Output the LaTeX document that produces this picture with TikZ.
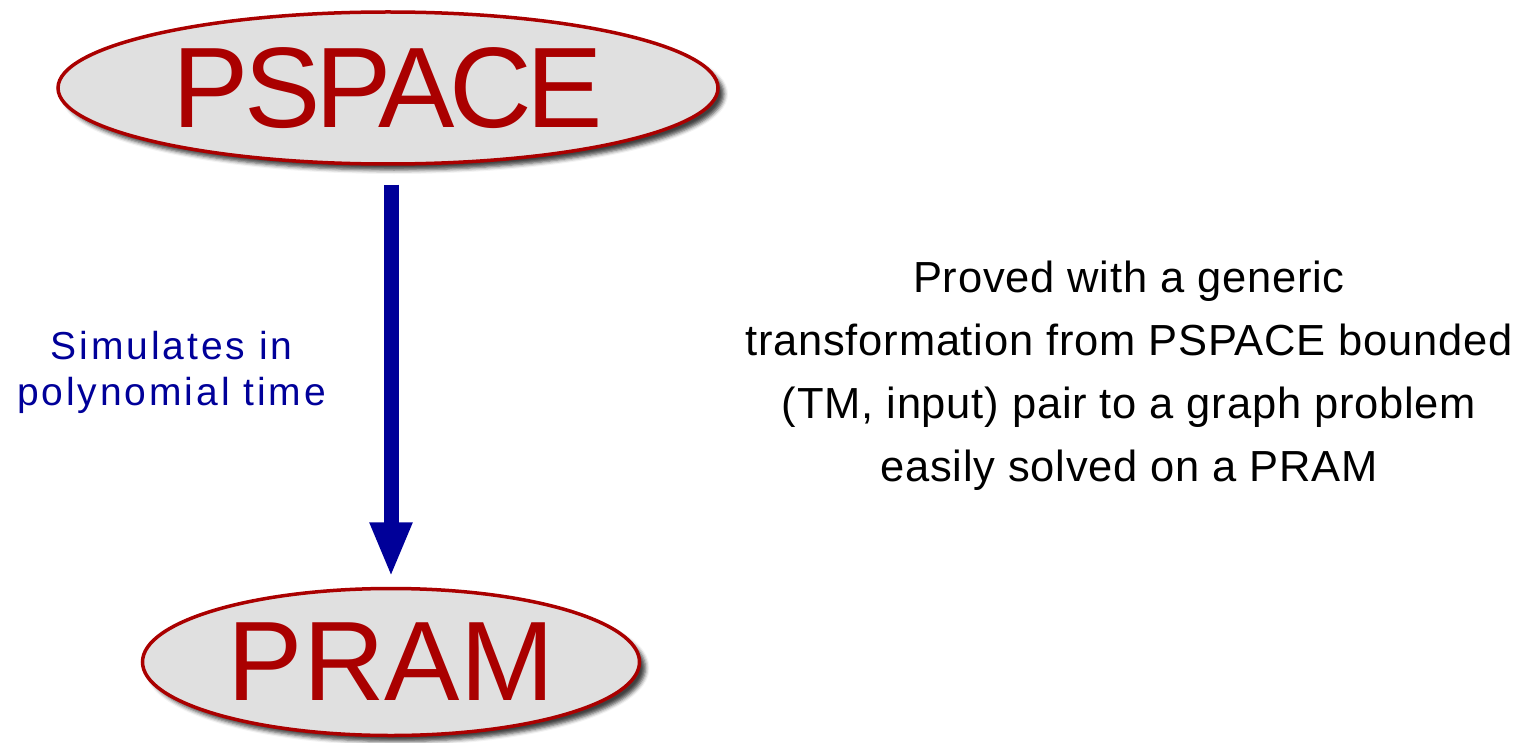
\documentclass[tikz,border=0pt]{standalone}
\usepackage{fontspec}
\setmainfont{Liberation Sans}
\newfontfamily\bigtightfont[LetterSpace=-4.5]{Liberation Sans}
\newfontfamily\bigfont[LetterSpace=0]{Liberation Sans}
\newfontfamily\labelfont[LetterSpace=7.5]{Liberation Sans}
\newfontfamily\notefont[LetterSpace=1.8]{Liberation Sans}
\usetikzlibrary{shapes.geometric,arrows.meta,shadows.blur}
\definecolor{setred}{RGB}{170,0,0}
\definecolor{setfill}{RGB}{224,224,224}
\definecolor{arrowblue}{RGB}{0,0,153}
\tikzset{
  classbox/.style={ellipse, draw=setred, line width=3.5pt, fill=setfill,
    text=setred, inner sep=0pt,
    blur shadow={shadow xshift=6pt, shadow yshift=-6pt, shadow blur radius=4pt, shadow opacity=75}},
  simarrow/.style={draw=arrowblue, line width=15pt,
    -{Triangle[width=39pt,length=55pt,fill=arrowblue]}},
}
\begin{document}
\begin{tikzpicture}[x=1pt,y=-1pt]
\useasboundingbox (0,0) rectangle (1522,743);
\node[classbox, minimum width=660pt, minimum height=152pt,
  font=\bigtightfont\fontsize{114.5}{114.5}\selectfont] (ps) at (388,88) {PSPACE};
\node[classbox, minimum width=497pt, minimum height=147pt,
  font=\bigfont\fontsize{113}{113}\selectfont] (pr) at (391,662) {PRAM};
\draw[simarrow, shorten <=19pt, shorten >=9.5pt] (ps.south -| pr.north) -- (pr.north);
\node[anchor=base, align=center, text=arrowblue, inner sep=0pt,
  font=\labelfont\fontsize{39}{46}\selectfont] (sim) at (171.5,405)
  {Simulates in\\polynomial time};
\node[anchor=base, align=center, text=black, inner sep=0pt,
  font=\notefont\fontsize{43.5}{63}\selectfont] (note) at (1129,481)
  {Proved with a generic\\transformation from PSPACE bounded\\(TM, input) pair to a graph problem\\easily solved on a PRAM};
\end{tikzpicture}
\end{document}
